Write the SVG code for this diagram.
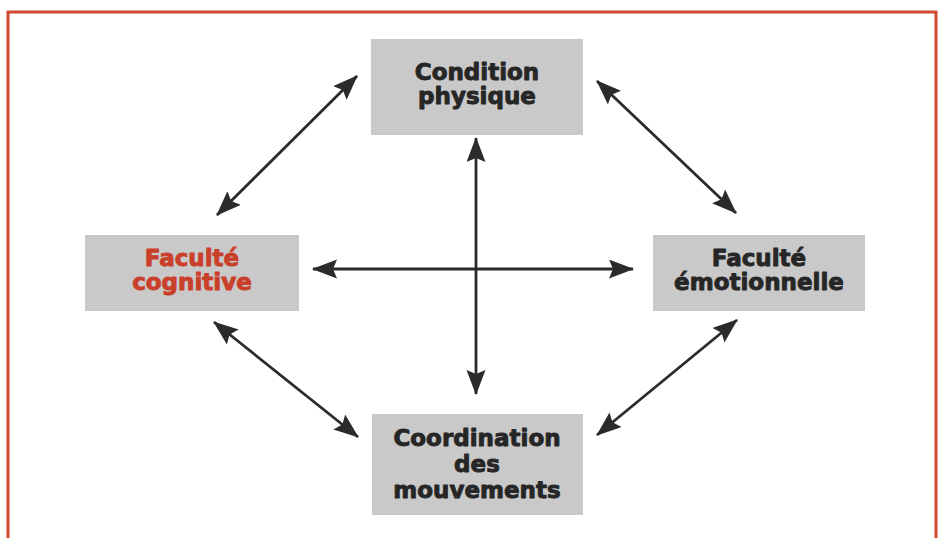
<svg xmlns="http://www.w3.org/2000/svg" width="943" height="538" viewBox="0 0 943 538">
  <style>
    .box { fill: #c9c9c9; }
    .lbl { font-family: "DejaVu Sans", "Liberation Sans", sans-serif; font-weight: bold; font-size: 23px; text-anchor: middle; fill: #262626; stroke: #262626; stroke-width: 0.9; stroke-linejoin: round; }
    .red { fill: #c9402a; stroke: #c9402a; }
    .arr { stroke: #2b2b2b; stroke-width: 2.8; fill: none; marker-start: url(#ah); marker-end: url(#ah); }
  </style>
  <defs>
    <marker id="ah" markerUnits="userSpaceOnUse" markerWidth="25" markerHeight="20" refX="24" refY="9.5" orient="auto-start-reverse" viewBox="0 0 25 20">
      <path d="M0,0 L25,9.5 L0,19 L4,9.5 Z" fill="#2b2b2b"/>
    </marker>
  </defs>
  <rect width="943" height="538" fill="#ffffff"/>
  <path d="M8,540 V12 H936 V540" fill="none" stroke="#cf4a2e" stroke-width="3"/>

  <g id="connectors">
    <line class="arr" x1="476" y1="138" x2="476" y2="394"/>
    <line class="arr" x1="313" y1="269" x2="633" y2="269"/>
    <line class="arr" x1="217" y1="215" x2="357" y2="76"/>
    <line class="arr" x1="597" y1="81" x2="736" y2="213"/>
    <line class="arr" x1="214" y1="322" x2="358" y2="437"/>
    <line class="arr" x1="737" y1="320" x2="597" y2="435"/>
  </g>

  <g id="condition-physique">
    <rect class="box" x="371" y="39" width="212" height="96"/>
    <text class="lbl" x="477" y="80">Condition</text>
    <text class="lbl" x="477" y="104">physique</text>
  </g>

  <g id="faculte-cognitive">
    <rect class="box" x="85" y="235" width="214" height="76"/>
    <text class="lbl red" x="192" y="266">Faculté</text>
    <text class="lbl red" x="192" y="290">cognitive</text>
  </g>

  <g id="faculte-emotionnelle">
    <rect class="box" x="653" y="235" width="212" height="76"/>
    <text class="lbl" x="759" y="266">Faculté</text>
    <text class="lbl" x="759" y="290">émotionnelle</text>
  </g>

  <g id="coordination-mouvements">
    <rect class="box" x="372" y="414" width="211" height="101"/>
    <text class="lbl" x="477" y="446">Coordination</text>
    <text class="lbl" x="477" y="472">des</text>
    <text class="lbl" x="477" y="498">mouvements</text>
  </g>
</svg>
